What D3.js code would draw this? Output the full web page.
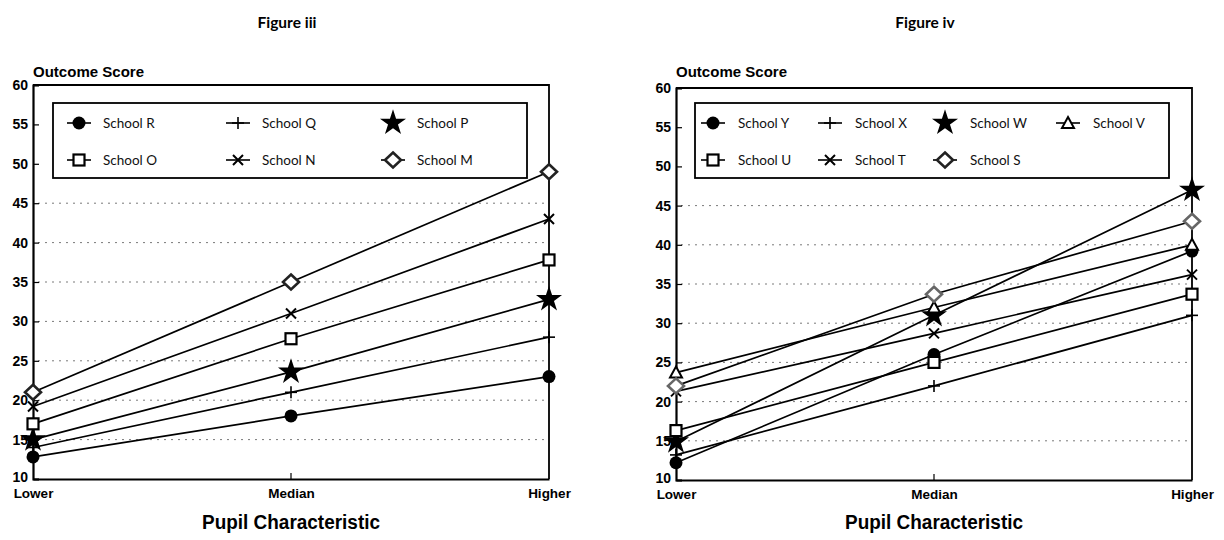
<!DOCTYPE html>
<html><head><meta charset="utf-8">
<script src="https://cdn.jsdelivr.net/npm/d3@7"></script>
<style>body{margin:0;background:#fff}svg{display:block}</style>
</head><body>
<svg id="chart" width="1224" height="540"></svg>
<script>
// ---- data ----
const categories = ["Lower", "Median", "Higher"];
const yTicks = [10, 15, 20, 25, 30, 35, 40, 45, 50, 55, 60];
const gridTicks = [15, 20, 25, 30, 35, 40, 45];

const leftTitle = "Figure iii";
const leftSchools = ["School R", "School Q", "School P", "School O", "School N", "School M"];
const schoolR = [12.8, 18, 23];
const schoolQ = [14, 21, 28];
const schoolP = [15, 23.6, 32.8];
const schoolO = [17, 27.8, 37.8];
const schoolN = [19.2, 31, 43];
const schoolM = [21, 35, 49];

const rightTitle = "Figure iv";
const rightSchools = ["School Y", "School X", "School W", "School V", "School U", "School T", "School S"];
const schoolY = [12.2, 26, 39.2];
const schoolX = [13.2, 22, 31];
const schoolW = [14.9, 31, 47];
const schoolV = [23.7, 32, 40];
const schoolU = [16.3, 25, 33.7];
const schoolT = [21.3, 28.7, 36.2];
const schoolS = [22, 33.7, 43];

const yLabel = "Outcome Score";
const xLabel = "Pupil Characteristic";

// ---- styling / layout ----
const markerOf = {
  "School R": "circle", "School Q": "plus", "School P": "star", "School O": "square", "School N": "cross", "School M": "diamond",
  "School Y": "circle", "School X": "plus", "School W": "star", "School V": "triangle", "School U": "square", "School T": "cross", "School S": "diamond"
};

const svg = d3.select("#chart");

function drawMarker(g, type, x, y, diamondColor) {
  const k = g.append("g").attr("transform", `translate(${x},${y})`);
  if (type === "circle") {
    k.append("circle").attr("r", 6.5).attr("fill", "#000");
  } else if (type === "star") {
    k.append("path").attr("d", d3.symbol(d3.symbolStar, 210)()).attr("fill", "#000");
  } else if (type === "square") {
    k.append("rect").attr("x", -5.5).attr("y", -5.5).attr("width", 11).attr("height", 11)
      .attr("fill", "#fff").attr("stroke", "#000").attr("stroke-width", 2.2);
  } else if (type === "diamond") {
    k.append("path").attr("d", "M0,-7.5L8,0L0,7.5L-8,0Z")
      .attr("fill", "#fff").attr("stroke", diamondColor || "#222").attr("stroke-width", 2.6);
  } else if (type === "plus") {
    k.append("line").attr("x1", 0).attr("x2", 0).attr("y1", -6).attr("y2", 6).attr("stroke", "#000").attr("stroke-width", 1.6);
    k.append("line").attr("x1", -6).attr("x2", 6).attr("y1", 0).attr("y2", 0).attr("stroke", "#000").attr("stroke-width", 1.6);
  } else if (type === "cross") {
    k.append("path").attr("d", "M-5,-5L5,5M-5,5L5,-5").attr("stroke", "#000").attr("stroke-width", 2);
  } else if (type === "triangle") {
    k.append("path").attr("d", "M0,-6L6,5L-6,5Z").attr("fill", "#fff").attr("stroke", "#000").attr("stroke-width", 2);
  }
}

function drawChart(cfg) {
  const g = svg.append("g");
  const x = d3.scalePoint().domain(categories).range([cfg.x0, cfg.x1]);
  const y = d3.scaleLinear().domain([10, 60]).range([cfg.yb, cfg.yt]);
  const heavy = "'Liberation Sans', Arial, sans-serif";

  // title
  g.append("text").attr("x", cfg.titleX).attr("y", 28).attr("text-anchor", "middle")
    .attr("font-family", "Lato, 'Open Sans', sans-serif").attr("font-weight", "bold").attr("font-size", 15.5)
    .text(cfg.title);

  // gridlines
  g.append("g").selectAll("line").data(gridTicks).join("line")
    .attr("x1", cfg.x0 + 5).attr("x2", cfg.x1 - 4)
    .attr("y1", d => y(d)).attr("y2", d => y(d))
    .attr("stroke", "#222").attr("stroke-width", 1).attr("stroke-dasharray", "2,5").attr("opacity", 0.6);

  // y axis
  const yAxis = d3.axisLeft(y).tickValues(yTicks).tickSize(-6).tickPadding(5).tickFormat(d3.format("d"));
  const ya = g.append("g").attr("transform", `translate(${cfg.x0},0)`).call(yAxis);
  ya.select(".domain").attr("stroke", "#000").attr("stroke-width", 2.2);
  ya.selectAll(".tick line").attr("stroke", "#000").attr("stroke-width", 1.2);
  ya.selectAll(".tick text").attr("font-family", heavy).attr("font-weight", "bold")
    .attr("font-size", 14).attr("fill", "#000")
    .attr("dy", d => d === 10 ? "0.15em" : "0.32em");

  // x axis (bottom)
  const xAxis = d3.axisBottom(x).tickSize(0).tickPadding(9);
  const xa = g.append("g").attr("transform", `translate(0,${cfg.yb})`).call(xAxis);
  xa.select(".domain").attr("stroke", "#000").attr("stroke-width", 2.2);
  xa.selectAll(".tick text").attr("font-family", heavy).attr("font-weight", "bold")
    .attr("font-size", 13.5).attr("fill", "#000");
  g.append("line").attr("x1", x("Median")).attr("x2", x("Median")).attr("y1", cfg.yb).attr("y2", cfg.yb - 6)
    .attr("stroke", "#000").attr("stroke-width", 1.2);

  // top + right border
  g.append("path").attr("d", `M${cfg.x0},${cfg.yt}H${cfg.x1}V${cfg.yb}`)
    .attr("fill", "none").attr("stroke", "#000").attr("stroke-width", 1.8);

  // axis labels
  g.append("text").attr("x", cfg.x0).attr("y", 77)
    .attr("font-family", heavy).attr("font-weight", "bold").attr("font-size", 14.5)
    .attr("textLength", 111).attr("lengthAdjust", "spacingAndGlyphs")
    .text(yLabel);
  g.append("text").attr("x", (cfg.x0 + cfg.x1) / 2).attr("y", 529).attr("text-anchor", "middle")
    .attr("font-family", heavy).attr("font-weight", "bold").attr("font-size", 20)
    .attr("textLength", 178).attr("lengthAdjust", "spacingAndGlyphs")
    .text(xLabel);

  // series lines + markers
  const line = d3.line().x((d, i) => x(categories[i])).y(d => y(d));
  cfg.series.forEach(s => {
    g.append("path").attr("d", line(s.values)).attr("fill", "none").attr("stroke", "#000").attr("stroke-width", 1.7);
  });
  cfg.series.forEach(s => {
    s.values.forEach((v, i) => drawMarker(g, markerOf[s.name], x(categories[i]), y(v), cfg.diamondColor));
  });

  // legend
  const lg = g.append("g");
  lg.append("rect").attr("x", cfg.leg.x).attr("y", cfg.leg.y).attr("width", cfg.leg.w).attr("height", cfg.leg.h)
    .attr("fill", "#fff").attr("stroke", "#000").attr("stroke-width", 1.8);
  cfg.series.forEach((s, i) => {
    const col = i < cfg.leg.perRow ? i : i - cfg.leg.perRow;
    const row = i < cfg.leg.perRow ? 0 : 1;
    const mx = cfg.leg.cols[col];
    const my = cfg.leg.rows[row];
    const t = markerOf[s.name];
    if (t !== "star") {
      lg.append("line").attr("x1", mx - 12).attr("x2", mx + 12).attr("y1", my).attr("y2", my)
        .attr("stroke", "#000").attr("stroke-width", 1.6);
    }
    drawMarker(lg, t, mx, my, "#222");
    lg.append("text").attr("x", mx + cfg.leg.textGap).attr("y", my + 4.5)
      .attr("font-family", "Lato, 'Open Sans', sans-serif").attr("font-size", 13.5).attr("fill", "#111")
      .text(s.name);
  });
}

drawChart({
  title: leftTitle, titleX: 287,
  x0: 33, x1: 549, yt: 85, yb: 479, diamondColor: "#222",
  series: [
    {name: leftSchools[0], values: schoolR},
    {name: leftSchools[1], values: schoolQ},
    {name: leftSchools[2], values: schoolP},
    {name: leftSchools[3], values: schoolO},
    {name: leftSchools[4], values: schoolN},
    {name: leftSchools[5], values: schoolM}
  ],
  leg: {x: 53, y: 103, w: 474, h: 75, perRow: 3, cols: [79, 238, 393], rows: [123, 160], textGap: 24}
});

drawChart({
  title: rightTitle, titleX: 925,
  x0: 676, x1: 1192, yt: 88, yb: 480, diamondColor: "#666",
  series: [
    {name: rightSchools[0], values: schoolY},
    {name: rightSchools[1], values: schoolX},
    {name: rightSchools[2], values: schoolW},
    {name: rightSchools[3], values: schoolV},
    {name: rightSchools[4], values: schoolU},
    {name: rightSchools[5], values: schoolT},
    {name: rightSchools[6], values: schoolS}
  ],
  leg: {x: 695, y: 103, w: 474, h: 75, perRow: 4, cols: [713, 830, 945, 1068], rows: [123, 160], textGap: 25}
});
</script>
</body></html>
